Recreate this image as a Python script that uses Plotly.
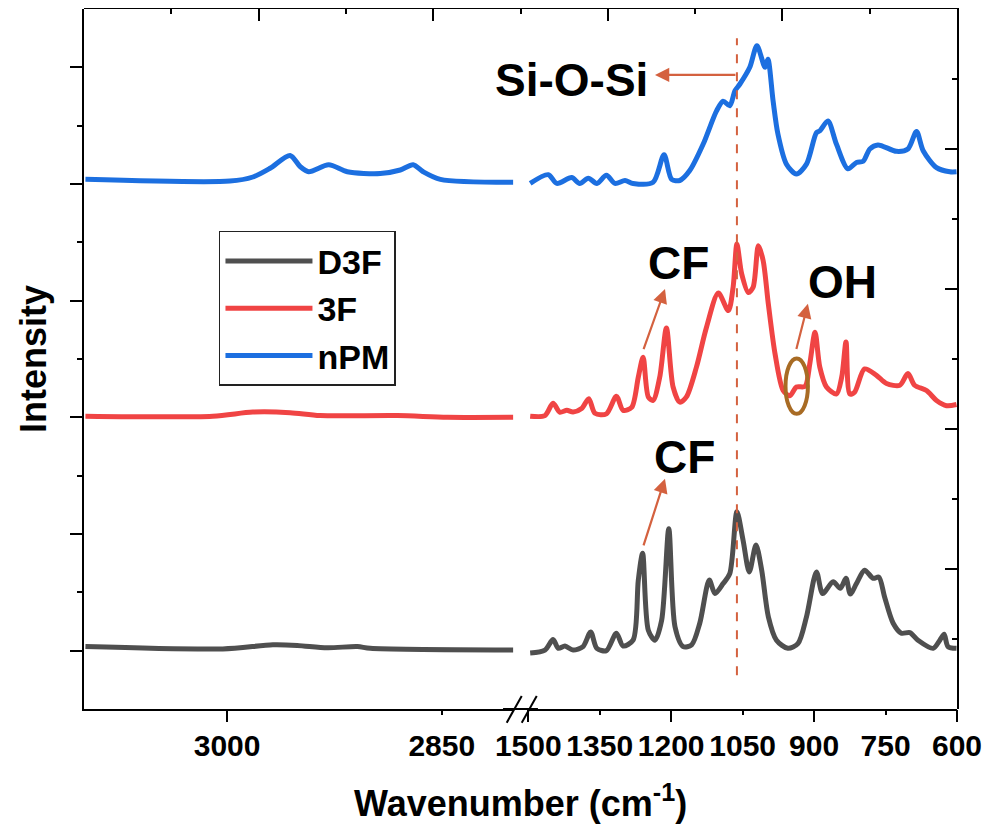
import plotly.graph_objects as go

# ---------------- data (wavenumber in cm-1, intensity in a.u.) ----------------
series_names = ["D3F", "3F", "nPM"]
series_offsets = [1.0, 5.0, 9.0]
series_colors = ["#4f4f4f", "#f04444", "#1c6fe0"]

# C-H region (3100 - 2800 cm-1)
hi_wn_d3f = [3099, 3003, 2968, 2951, 2930, 2909, 2900, 2800]
hi_d3f = [0.07, 0.03, 0.10, 0.09, 0.05, 0.07, 0.04, 0.01]
hi_wn_3f = [3099, 3010, 2982, 2956, 2935, 2881, 2846, 2800]
hi_3f = [0.02, 0.02, 0.09, 0.08, 0.03, 0.03, 0.00, 0.00]
hi_wn_npm = [3099, 2998, 2982, 2970, 2956, 2949, 2943, 2929, 2916, 2893, 2879, 2870, 2863, 2851, 2800]
hi_npm = [0.08, 0.05, 0.12, 0.27, 0.49, 0.30, 0.21, 0.33, 0.21, 0.18, 0.24, 0.33, 0.21, 0.08, 0.03]

# fingerprint region (1500 - 600 cm-1)
lo_wn_d3f = [1496, 1465, 1448, 1437, 1423, 1406, 1385, 1369, 1356, 1336, 1315, 1301, 1280, 1269,
             1260, 1248, 1234, 1220, 1205, 1192, 1175, 1157, 1140, 1120, 1108, 1091, 1077, 1062,
             1049, 1036, 1022, 1010, 996, 979, 955, 934, 916, 895, 882, 860, 845, 833, 824, 811,
             794, 776, 764, 752, 734, 717, 699, 682, 650, 636, 627, 619, 601]
lo_d3f = [-0.04, 0.01, 0.19, 0.04, 0.08, 0.01, 0.07, 0.32, 0.04, 0.00, 0.30, 0.08, 0.18, 1.21,
          1.67, 0.35, 0.18, 0.52, 2.09, 0.41, 0.07, 0.10, 0.47, 1.21, 0.98, 1.15, 1.32, 2.38,
          1.89, 1.35, 1.81, 1.38, 0.58, 0.18, 0.04, 0.12, 0.58, 1.35, 0.98, 1.18, 1.07, 1.24,
          0.97, 1.15, 1.38, 1.24, 1.26, 0.92, 0.47, 0.30, 0.31, 0.18, 0.04, 0.18, 0.28, 0.07, 0.04]

lo_wn_3f = [1496, 1465, 1448, 1434, 1419, 1406, 1388, 1373, 1360, 1336, 1315, 1301, 1283, 1269,
            1259, 1248, 1238, 1224, 1210, 1196, 1182, 1168, 1147, 1126, 1101, 1080, 1070, 1062,
            1052, 1038, 1028, 1017, 1007, 996, 982, 965, 951, 937, 919, 909, 898, 888, 874, 853,
            842, 833, 825, 815, 794, 769, 748, 720, 703, 689, 664, 643, 622, 601]
lo_3f = [0.02, 0.03, 0.24, 0.09, 0.12, 0.09, 0.15, 0.32, 0.07, 0.06, 0.36, 0.12, 0.17, 0.69,
         1.03, 0.35, 0.29, 0.69, 1.53, 0.52, 0.26, 0.35, 0.86, 1.54, 2.13, 1.83, 2.23, 2.97,
         2.46, 2.14, 2.23, 2.94, 2.69, 1.94, 1.09, 0.46, 0.37, 0.52, 0.53, 0.92, 1.46, 0.86,
         0.52, 0.40, 0.69, 1.29, 0.40, 0.43, 0.83, 0.72, 0.58, 0.55, 0.75, 0.55, 0.46, 0.29, 0.20, 0.22]

lo_wn_npm = [1496, 1458, 1440, 1409, 1392, 1374, 1356, 1336, 1318, 1297, 1280, 1238, 1215, 1199,
             1182, 1161, 1133, 1105, 1091, 1077, 1066, 1056, 1035, 1020, 1003, 997, 986, 976, 958,
             937, 916, 895, 888, 871, 853, 829, 811, 797, 783, 766, 727, 703, 685, 671, 643, 615, 601]
lo_npm = [0.01, 0.16, 0.01, 0.11, 0.01, 0.10, 0.01, 0.15, 0.01, 0.06, 0.01, 0.03, 0.50, 0.08,
          0.06, 0.23, 0.68, 1.25, 1.42, 1.34, 1.60, 1.71, 2.00, 2.37, 2.00, 2.14, 1.42, 0.86, 0.34,
          0.17, 0.34, 0.88, 0.91, 1.08, 0.68, 0.26, 0.37, 0.39, 0.60, 0.67, 0.56, 0.60, 0.90, 0.57,
          0.28, 0.21, 0.21]

hi_x = [hi_wn_d3f, hi_wn_3f, hi_wn_npm]
hi_y = [hi_d3f, hi_3f, hi_npm]
lo_x = [lo_wn_d3f, lo_wn_3f, lo_wn_npm]
lo_y = [lo_d3f, lo_3f, lo_npm]

hi_ticks = [3000, 2850]
hi_major = [3000]
lo_ticks = [1500, 1350, 1200, 1050, 900, 750, 600]
lo_major = [1500, 1200, 900, 600]

# ---------------- styling ----------------
FONT = "Liberation Sans"
ARROW = "#d4613f"
ELLIPSE = "#a86b24"
TICKFONT = dict(family=FONT, size=30, color="black", weight="bold")

fig = go.Figure()
for name, off, col, hx, hy, lx, ly in zip(series_names, series_offsets, series_colors, hi_x, hi_y, lo_x, lo_y):
    fig.add_trace(go.Scatter(x=hx, y=[v + off for v in hy], xaxis="x", yaxis="y", mode="lines",
                             line=dict(color=col, width=5, shape="spline", smoothing=0.8),
                             name=name, legendgroup=name, showlegend=True))
    fig.add_trace(go.Scatter(x=lx, y=[v + off for v in ly], xaxis="x2", yaxis="y", mode="lines",
                             line=dict(color=col, width=5, shape="spline", smoothing=0.8),
                             name=name, legendgroup=name, showlegend=False))

# helper traces so the frame / tick-overlay axes are drawn
for xa, ya in [("x3", "y2"), ("x4", "y"), ("x5", "y")]:
    fig.add_trace(go.Scatter(x=[None], y=[None], xaxis=xa, yaxis=ya, showlegend=False, hoverinfo="skip"))

common = dict(showgrid=False, zeroline=False, automargin=False, tickcolor="black", tickwidth=2,
              linecolor="black", linewidth=2)

fig.update_layout(
    width=991, height=818,
    margin=dict(l=76, r=42, t=1, b=117),
    plot_bgcolor="rgba(0,0,0,0)", paper_bgcolor="white",
    xaxis=dict(domain=[0, 0.4918], range=[3100, 2800], anchor="y", showline=True, ticks="outside",
               tickvals=hi_ticks, ticklen=4, tickfont=TICKFONT, ticklabelstandoff=5, **common),
    xaxis4=dict(overlaying="x", anchor="y", range=[3100, 2800], showline=False, ticks="outside",
                tickvals=hi_major, ticklen=12, showticklabels=False, **common),
    xaxis2=dict(domain=[0.5089, 1], range=[1500, 600], anchor="y", showline=True, ticks="outside",
                tickvals=lo_ticks, ticklen=4, tickfont=TICKFONT, ticklabelstandoff=5, **common),
    xaxis5=dict(overlaying="x2", anchor="y", range=[1500, 600], showline=False, ticks="outside",
                tickvals=lo_major, ticklen=12, showticklabels=False, **common),
    yaxis=dict(domain=[0, 1], range=[0, 12], anchor="x", showline=True, ticks="outside",
               tickvals=[1, 3, 5, 7, 9, 11], ticklen=12, showticklabels=False,
               minor=dict(tickvals=[2, 4, 6, 8, 10], ticklen=5, ticks="outside", tickcolor="black", tickwidth=2),
               **common),
    xaxis3=dict(domain=[0, 1], range=[0, 10], anchor="y2", side="top", showline=True, ticks="inside",
                tickvals=[2, 4, 6, 8], ticklen=12, showticklabels=False,
                minor=dict(tickvals=[1, 3, 5, 7, 9], ticklen=5, ticks="inside", tickcolor="black", tickwidth=2),
                **common),
    yaxis2=dict(domain=[0, 1], range=[0, 10], anchor="x3", side="right", showline=True, ticks="inside",
                tickvals=[2, 4, 6, 8], ticklen=12, showticklabels=False,
                minor=dict(tickvals=[1, 3, 5, 7, 9], ticklen=5, ticks="inside", tickcolor="black", tickwidth=2),
                **common),
    legend=dict(x=0.1546, y=0.683, xanchor="left", yanchor="top", bgcolor="white",
                bordercolor="#222222", borderwidth=1.5, itemwidth=87, tracegroupgap=0,
                font=dict(family=FONT, size=34, color="black", weight="bold")),
    showlegend=True,
)

# axis break: continuous baseline plus "//" marks
fig.add_shape(type="line", xref="paper", yref="paper", x0=0.48, x1=0.52, y0=0, y1=0,
              line=dict(color="black", width=2))
for xs in (0.4842, 0.5014):
    fig.add_shape(type="line", xref="paper", yref="paper", x0=xs, x1=xs + 0.0172, y0=-0.0196, y1=0.0186,
                  line=dict(color="black", width=2))

# dashed reference line at the Si-O-Si band
fig.add_shape(type="line", xref="x2", yref="y", x0=1062, x1=1062, y0=0.58, y1=11.5,
              line=dict(color=ARROW, width=2, dash="dash"))
# OH marker ellipse
fig.add_shape(type="circle", xref="x2", yref="y", x0=960, x1=913, y0=5.06, y1=6.01,
              line=dict(color=ELLIPSE, width=4))

ann_font = dict(family=FONT, size=46, color="black", weight="bold")
labels = [("Si-O-Si", 1409, 10.78), ("CF", 1184, 7.64), ("OH", 840, 7.32), ("CF", 1173, 4.32)]
for t, x, y in labels:
    fig.add_annotation(text=t, x=x, y=y, xref="x2", yref="y", showarrow=False, font=ann_font,
                       xanchor="center", yanchor="middle")

arrows = [((1062, 10.87), (1234, 10.87)), ((1259, 6.145), (1213, 7.20)),
          ((938, 6.145), (913, 6.945)), ((1259, 2.778), (1213, 3.949))]
for (tx, ty), (hx, hy) in arrows:
    fig.add_annotation(text="", x=hx, y=hy, ax=tx, ay=ty, xref="x2", yref="y", axref="x2", ayref="y",
                       showarrow=True, arrowhead=2, arrowsize=1.3, arrowwidth=2.2, arrowcolor=ARROW)

# axis titles
fig.add_annotation(text="Wavenumber (cm<sup>-1</sup>)", x=0.5, y=-0.1314, xref="paper", yref="paper",
                   showarrow=False, xanchor="center", yanchor="middle",
                   font=dict(family=FONT, size=36, color="black", weight="bold"))
fig.add_annotation(text="Intensity", x=-0.0584, y=0.5, xref="paper", yref="paper", textangle=-90,
                   showarrow=False, xanchor="center", yanchor="middle",
                   font=dict(family=FONT, size=36, color="black", weight="bold"))

fig.write_html("out.html")
